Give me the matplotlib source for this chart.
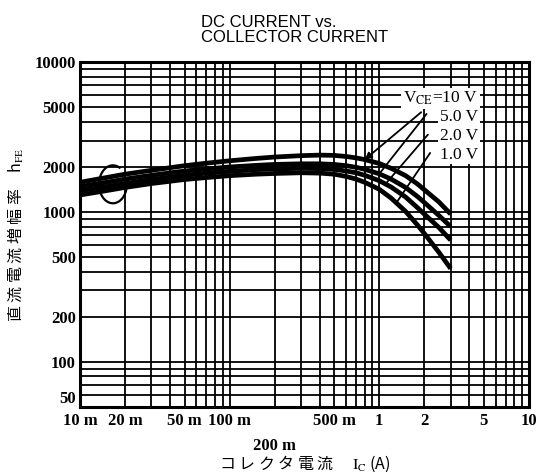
import numpy as np
import matplotlib
matplotlib.use('Agg')
import matplotlib.pyplot as plt
from matplotlib.ticker import FixedLocator, LogLocator, NullFormatter
from matplotlib.patches import Arc

plt.rcParams['font.family'] = ['Liberation Serif', 'Noto Sans CJK JP']
plt.rcParams['mathtext.fontset'] = 'stix'

# コレクタ電流 Ic (A)
ic = [0.01, 0.015, 0.02, 0.03, 0.05, 0.07, 0.1, 0.15, 0.2, 0.3, 0.4, 0.5,
      0.6, 0.7, 0.8, 1.0, 1.2, 1.5, 1.8, 2.0, 2.5, 3.0]

# hFE (VCE 別)
hfe_10v = [1580, 1700, 1790, 1900, 2040, 2120, 2200, 2280, 2330, 2380, 2400, 2390,
           2350, 2300, 2240, 2110, 1960, 1750, 1540, 1410, 1170, 970]
hfe_5v = [1480, 1580, 1660, 1760, 1880, 1940, 2000, 2050, 2080, 2100, 2100, 2080,
          2040, 1990, 1930, 1800, 1660, 1460, 1270, 1160, 950, 800]
hfe_2v = [1390, 1480, 1550, 1650, 1760, 1820, 1870, 1920, 1940, 1960, 1950, 1930,
          1880, 1830, 1760, 1620, 1470, 1260, 1070, 970, 790, 650]
hfe_1v = [1300, 1390, 1460, 1550, 1650, 1700, 1750, 1790, 1810, 1830, 1820, 1790,
          1730, 1660, 1580, 1420, 1240, 1010, 820, 720, 540, 420]

series = [hfe_10v, hfe_5v, hfe_2v, hfe_1v]
labels = [r'V$_{\rm CE}$=10 V', '5.0 V', '2.0 V', '1.0 V']
arrow_ic = [0.8, 1.0, 1.1, 1.3]   # 引き出し線の当たる位置

x_ticks = [0.01, 0.02, 0.05, 0.1, 0.2, 0.5, 1, 2, 5, 10]
x_ticklabels = ['10 m', '20 m', '50 m', '100 m', '200 m', '500 m', '1', '2', '5', '10']
y_ticks = [50, 100, 200, 500, 1000, 2000, 5000, 10000]
y_ticklabels = ['50', '100', '200', '500', '1000', '2000', '5000', '10000']

fig = plt.figure(figsize=(5.4, 4.75), dpi=100)
ax = fig.add_axes([0.148, 0.143, 0.8315, 0.726])
ax.set_xscale('log')
ax.set_yscale('log')
ax.set_xlim(0.01, 10)
ax.set_ylim(50, 10000)

# グリッド
ax.xaxis.set_minor_locator(LogLocator(base=10, subs=np.arange(2, 10)))
ax.yaxis.set_minor_locator(LogLocator(base=10, subs=np.arange(2, 10)))
ax.xaxis.set_minor_formatter(NullFormatter())
ax.yaxis.set_minor_formatter(NullFormatter())
ax.grid(True, which='both', color='black', lw=1.3)
ax.set_axisbelow(True)

ax.xaxis.set_major_locator(FixedLocator(x_ticks))
ax.set_xticklabels(x_ticklabels)
ax.yaxis.set_major_locator(FixedLocator(y_ticks))
ax.set_yticklabels(y_ticklabels)
ax.tick_params(which='both', length=0)
ax.tick_params(axis='x', pad=4)
ax.tick_params(axis='y', pad=3)
for t in ax.get_xticklabels() + ax.get_yticklabels():
    t.set_fontsize(12)
    t.set_fontweight('bold')
for tick in ax.xaxis.get_major_ticks():
    if abs(tick.get_loc() - 0.2) < 1e-9:
        tick.set_pad(22)
# 50 は軸の下端より上に置く
ax.get_yticklabels()[0].set_verticalalignment('bottom')

for s in ax.spines.values():
    s.set_linewidth(2.2)

# 曲線
for h in series:
    ax.plot(ic, h, color='black', lw=3.4, solid_capstyle='butt', zorder=3)

# ラベルと引き出し線
label_y = [0.896, 0.841, 0.786, 0.732]
start_pt = [(0.760, 0.855), (0.772, 0.850), (0.775, 0.790), (0.780, 0.737)]
for lab, ly, sp, a_ic, h in zip(labels, label_y, start_pt, arrow_ic, series):
    ax.text(0.887, ly, lab, transform=ax.transAxes, ha='right', va='center',
            fontsize=12.5, zorder=5,
            bbox=dict(facecolor='white', edgecolor='none', pad=1.2))
    yv = np.exp(np.interp(np.log(a_ic), np.log(ic), np.log(h)))
    style = '-|>' if lab.startswith('V') else '-'
    ax.annotate('', xy=(a_ic, yv), xycoords='data',
                xytext=sp, textcoords='axes fraction',
                arrowprops=dict(arrowstyle=style, color='black', lw=1.3,
                                mutation_scale=10, shrinkA=0, shrinkB=0),
                zorder=4)

# 曲線群を示す回転記号
arc = Arc((0.0735, 0.646), 0.062, 0.110, theta1=70, theta2=20,
          transform=ax.transAxes, color='black', lw=1.6, zorder=4)
ax.add_patch(arc)

ax.set_ylabel('直 流 電 流 増 幅 率　h$_{\\rm FE}$', family=['Noto Sans CJK JP', 'DejaVu Sans'],
              fontsize=11.5, labelpad=6)
ax.set_xlabel('コ レ ク タ 電 流　 $\\mathrm{I_C}$ (A)', family=['Noto Sans CJK JP', 'DejaVu Sans'],
              fontsize=11.5, labelpad=0)

fig.text(0.372, 0.905, 'DC CURRENT vs.\nCOLLECTOR CURRENT', ha='left', va='bottom',
         family='Liberation Sans', fontsize=12, linespacing=1.0)

fig.savefig('out.png', dpi=100)
